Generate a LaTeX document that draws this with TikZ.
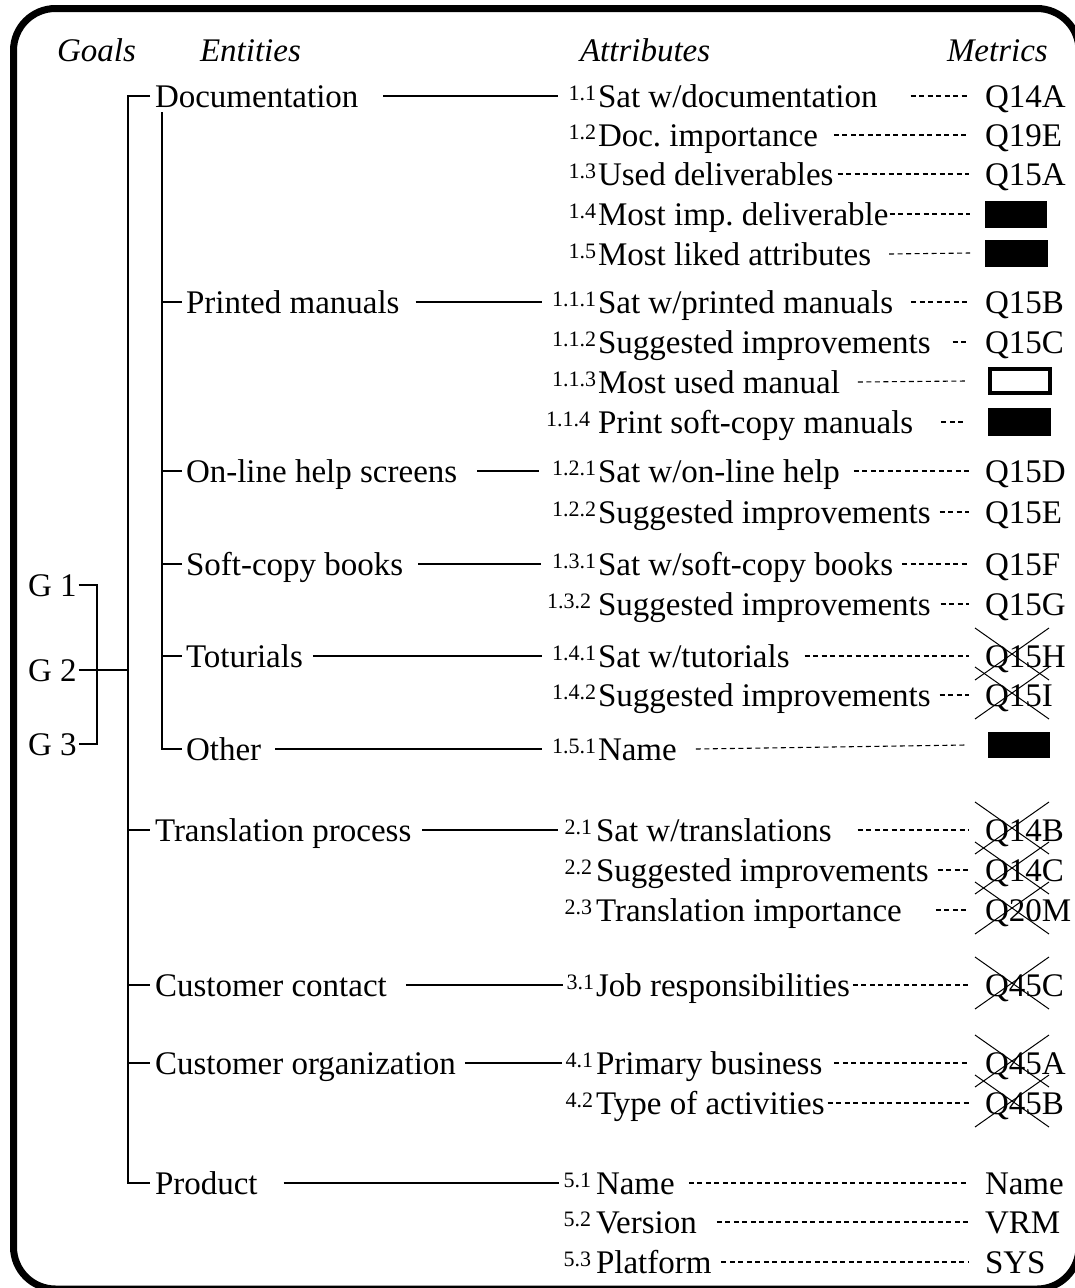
\documentclass[tikz,border=0pt]{standalone}
\usepackage{fontspec}
\setmainfont{Liberation Serif}
\frenchspacing

% number label + attribute text of one row
\newcommand\attrtext[6]{% id, row mid y, number right x, number, text x, text
  \node[num] (n#1) at (#3,#2-11) {#4};
  \node[attr] (a#1) at (#5,#2) {#6};}
% textual metric + dotted connector from its attribute
\newcommand\metric[4]{% id, row mid y, metric, gap after attribute
  \node[met] (m#1) at (985,#2) {#3};
  \draw[dotlink] ([xshift=#4]a#1.east) -- ([xshift=-16]m#1.west);}
% big cross over a dropped metric
\newcommand\strike[1]{%
  \draw[xline] ([shift={(-10,-28)}]#1.west) -- ([shift={(64,24)}]#1.west)
               ([shift={(-10,24)}]#1.west) -- ([shift={(64,-28)}]#1.west);}

\begin{document}
\begin{tikzpicture}[x=1pt,y=-1pt,
  base/.style={inner sep=0pt, outer sep=0pt, anchor=west, text height=22pt,
               text depth=0pt, font=\fontsize{33}{40}\selectfont},
  hdr/.style={base, font=\fontsize{33}{40}\selectfont\itshape},
  ent/.style={base},
  attr/.style={base},
  met/.style={base},
  num/.style={inner sep=0pt, outer sep=0pt, anchor=north east, text height=15pt,
              text depth=0pt, font=\fontsize{22}{26}\selectfont},
  tree/.style={line width=1.4pt},
  link/.style={line width=1.4pt},
  dotlink/.style={line width=1.1pt, dash pattern=on 5pt off 3.5pt},
  xline/.style={line width=1pt},
  fillbox/.style={fill=black, inner sep=0pt, outer sep=0pt, anchor=west},
  openbox/.style={draw=black, line width=4pt, inner sep=0pt, outer sep=0pt, anchor=west},
  frame/.style={line width=7pt, rounded corners=42pt}
]
\useasboundingbox (0,0) rectangle (1075,1288);
\draw[frame] (13.5,8.5) rectangle (1079,1289);

% column headings
\node[hdr] (hgoals) at (57,50)  {Goals};
\node[hdr] (hent)   at (200,50) {Entities};
\node[hdr] (hattr)  at (580,50) {Attributes};
\node[hdr] (hmet)   at (947,50) {Metrics};

% goals
\node[base] (g1) at (28,585) {G 1};
\node[base] (g2) at (28,670) {G 2};
\node[base] (g3) at (28,744) {G 3};

% entities
\node[ent] (doc) at (155,96)   {Documentation};
\node[ent] (prt) at (186,302)  {Printed manuals};
\node[ent] (olh) at (186,471)  {On-line help screens};
\node[ent] (scb) at (186,564)  {Soft-copy books};
\node[ent] (tut) at (186,656)  {Toturials};
\node[ent] (oth) at (186,749)  {Other};
\node[ent] (trp) at (155,830)  {Translation process};
\node[ent] (cuc) at (155,985)  {Customer contact};
\node[ent] (cuo) at (155,1063) {Customer organization};
\node[ent] (prd) at (155,1183) {Product};

% tree of entities
\coordinate (trunk) at (128,0);
\coordinate (subtop) at (162,112);
\coordinate (gbar) at (97,0);
\draw[tree] ([xshift=-5]doc.west) -| (trunk |- prd.west) -- ([xshift=-5]prd.west);
\foreach \e in {trp,cuc,cuo} {\draw[tree] (trunk |- \e.west) -- ([xshift=-5]\e.west);}
\draw[tree] (subtop) |- ([xshift=-4]oth.west);
\foreach \e in {prt,olh,scb,tut} {\draw[tree] (subtop |- \e.west) -- ([xshift=-4]\e.west);}
\draw[tree] ([xshift=2]g1.east) -| (gbar |- g3.east) -- ([xshift=2]g3.east);
\draw[tree] ([xshift=2]g2.east) -- (trunk |- g2.east);

% attributes and metrics
\attrtext{11}{96}{596}{1.1}{598}{Sat w/documentation}
\metric{11}{96}{Q14A}{33}
\attrtext{12}{135}{596}{1.2}{598}{Doc. importance}
\metric{12}{135}{Q19E}{16}
\attrtext{13}{174}{596}{1.3}{598}{Used deliverables}
\metric{13}{174}{Q15A}{4}
\attrtext{14}{214}{596}{1.4}{598}{Most imp. deliverable}
\node[fillbox, minimum width=62pt, minimum height=27pt] (m14) at (985,214) {};
\draw[dotlink] ([xshift=1]a14.east) -- ([xshift=-15]m14.west);
\attrtext{15}{254}{596}{1.5}{598}{Most liked attributes}
\node[fillbox, minimum width=63pt, minimum height=27pt] (m15) at (985,253) {};
\draw[dotlink] ([xshift=18]a15.east) -- ([xshift=-15]m15.west);

\attrtext{111}{302}{596}{1.1.1}{598}{Sat w/printed manuals}
\metric{111}{302}{Q15B}{18}
\attrtext{112}{342}{596}{1.1.2}{598}{Suggested improvements}
\metric{112}{342}{Q15C}{22}
\attrtext{113}{382}{596}{1.1.3}{598}{Most used manual}
\node[openbox, minimum width=60pt, minimum height=24pt] (m113) at (990,381) {};
\draw[dotlink] ([xshift=18]a113.east) -- ([xshift=-23]m113.west);
\attrtext{114}{422}{590}{1.1.4}{598}{Print soft-copy manuals}
\node[fillbox, minimum width=63pt, minimum height=28pt] (m114) at (988,422) {};
\draw[dotlink] ([xshift=28]a114.east) -- ([xshift=-22]m114.west);

\attrtext{121}{471}{596}{1.2.1}{598}{Sat w/on-line help}
\metric{121}{471}{Q15D}{14}
\attrtext{122}{512}{596}{1.2.2}{598}{Suggested improvements}
\metric{122}{512}{Q15E}{9}

\attrtext{131}{564}{596}{1.3.1}{598}{Sat w/soft-copy books}
\metric{131}{564}{Q15F}{9}
\attrtext{132}{604}{591}{1.3.2}{598}{Suggested improvements}
\metric{132}{604}{Q15G}{10}

\attrtext{141}{656}{596}{1.4.1}{598}{Sat w/tutorials}
\metric{141}{656}{Q15H}{15}
\attrtext{142}{695}{596}{1.4.2}{598}{Suggested improvements}
\metric{142}{695}{Q15I}{9}

\attrtext{151}{749}{596}{1.5.1}{598}{Name}
\node[fillbox, minimum width=62pt, minimum height=26pt] (m151) at (988,745) {};
\draw[dotlink] ([xshift=19]a151.east) -- ([xshift=-22]m151.west);

\attrtext{21}{830}{592}{2.1}{596}{Sat w/translations}
\metric{21}{830}{Q14B}{26}
\attrtext{22}{870}{592}{2.2}{596}{Suggested improvements}
\metric{22}{870}{Q14C}{9}
\attrtext{23}{910}{592}{2.3}{596}{Translation importance}
\metric{23}{910}{Q20M}{34}

\attrtext{31}{985}{594}{3.1}{596}{Job responsibilities}
\metric{31}{985}{Q45C}{3}

\attrtext{41}{1063}{593}{4.1}{596}{Primary business}
\metric{41}{1063}{Q45A}{12}
\attrtext{42}{1103}{593}{4.2}{596}{Type of activities}
\metric{42}{1103}{Q45B}{3}

\attrtext{51}{1183}{591}{5.1}{596}{Name}
\metric{51}{1183}{Name}{14}
\attrtext{52}{1222}{591}{5.2}{596}{Version}
\metric{52}{1222}{VRM}{20}
\attrtext{53}{1262}{591}{5.3}{596}{Platform}
\metric{53}{1262}{SYS}{10}

% dropped metrics
\foreach \m in {m141,m142,m21,m22,m23,m31,m41,m42} {\strike{\m}}

% entity to first attribute
\draw[link] ([xshift=25]doc.east) -- ([xshift=-11]n11.west |- doc.east);
\draw[link] ([xshift=16]prt.east) -- ([xshift=-10]n111.west |- prt.east);
\draw[link] ([xshift=20]olh.east) -- ([xshift=-13]n121.west |- olh.east);
\draw[link] ([xshift=15]scb.east) -- ([xshift=-11]n131.west |- scb.east);
\draw[link] ([xshift=10]tut.east) -- ([xshift=-10]n141.west |- tut.east);
\draw[link] ([xshift=14]oth.east) -- ([xshift=-10]n151.west |- oth.east);
\draw[link] ([xshift=11]trp.east) -- ([xshift=-7]n21.west |- trp.east);
\draw[link] ([xshift=19]cuc.east) -- ([xshift=-4]n31.west |- cuc.east);
\draw[link] ([xshift=9]cuo.east) -- ([xshift=-4]n41.west |- cuo.east);
\draw[link] ([xshift=26]prd.east) -- ([xshift=-5]n51.west |- prd.east);
\end{tikzpicture}
\end{document}
